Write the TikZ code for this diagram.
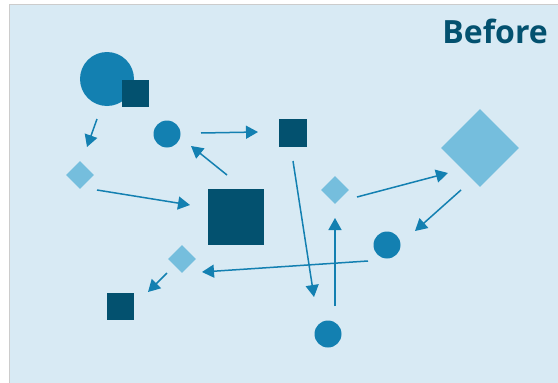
\documentclass[tikz,border=0pt]{standalone}
\usepackage{fontspec}
\setmainfont{Open Sans}
\usetikzlibrary{shapes.geometric,arrows.meta}

\definecolor{paneblue}{HTML}{D8EAF4}
\definecolor{darkblue}{HTML}{03516F}
\definecolor{midblue}{HTML}{1380B1}
\definecolor{lightblue}{HTML}{75BEDD}

\tikzset{
  dot/.style={circle,fill=midblue,inner sep=0pt,minimum size=#1},
  box/.style={rectangle,fill=darkblue,inner sep=0pt,minimum size=#1},
  gem/.style={diamond,fill=lightblue,inner sep=0pt,aspect=1,minimum size=#1},
  arr/.style={draw=midblue,line width=1.5pt,-{Triangle[length=12pt,width=13pt]}}
}

\begin{document}
\begin{tikzpicture}[x=1pt,y=-1pt]
      \useasboundingbox (0,0) rectangle (558,383);
      \fill[paneblue] (9,4) rectangle (558,383);
      \draw[black!20,line width=0.8pt] (9,383) -- (9,4) -- (558,4);
      \node[anchor=base east,inner sep=0pt,text=darkblue,font=\bfseries\fontsize{32}{32}\selectfont]
        (title) at (548,43) {Before};
      \node[dot=54pt] (c0) at (107,79) {};
      \node[box=27pt] (s0) at (135,93) {};
      \node[dot=27pt] (c1) at (167,134) {};
      \node[dot=27pt] (c2) at (387,245) {};
      \node[dot=27pt] (c3) at (328,334) {};
      \node[box=28pt] (s1) at (293,133) {};
      \node[box=56pt] (s2) at (236,217) {};
      \node[box=27pt] (s3) at (120,306) {};
      \node[gem=28pt] (d0) at (80,175) {};
      \node[gem=28pt] (d1) at (182,259) {};
      \node[gem=28pt] (d2) at (335,190) {};
      \node[gem=78pt] (d3) at (480,148) {};
      \begin{scope}[arr]
        \draw ([shift={(-10,40)}]c0.center) -- ([shift={(7,-28)}]d0.center);
        \draw ([shift={(34,-1)}]c1.center) -- ([shift={(-35,-1)}]s1.center);
        \draw ([shift={(-9,-42)}]s2.center) -- ([shift={(24,12)}]c1.center);
        \draw ([shift={(17,15)}]d0.center) -- ([shift={(-46,-12)}]s2.center);
        \draw ([shift={(0,28)}]s1.center) -- ([shift={(-14,-37)}]c3.center);
        \draw ([shift={(7,-28)}]c3.center) -- ([shift={(0,28)}]d2.center);
        \draw ([shift={(22,7)}]d2.center) -- ([shift={(-32,25)}]d3.center);
        \draw ([shift={(-19,42)}]d3.center) -- ([shift={(28,-14)}]c2.center);
        \draw ([shift={(-19,16)}]c2.center) -- ([shift={(20,13)}]d1.center);
        \draw ([shift={(-15,14)}]d1.center) -- ([shift={(28,-14)}]s3.center);
      \end{scope}
    \end{tikzpicture}
\end{document}
